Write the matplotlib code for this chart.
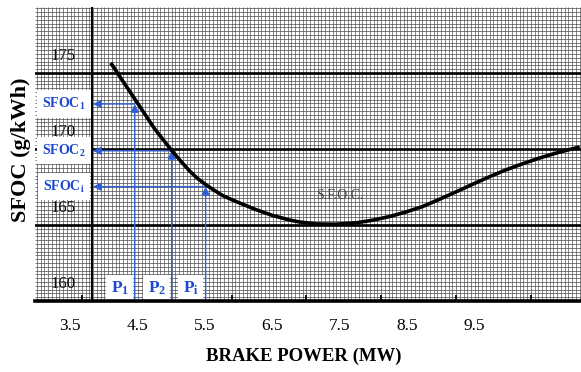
import numpy as np
import matplotlib
matplotlib.use("Agg")
import matplotlib.pyplot as plt

# ---------------- data ----------------
power = [4.107, 4.285, 4.571, 4.759, 5.011, 5.144, 5.278, 5.396, 5.525, 5.648,
         5.767, 5.896, 6.019, 6.256, 6.507, 6.759, 6.907, 7.155, 7.441, 7.747,
         7.989, 8.241, 8.478, 8.730, 8.981, 9.229, 9.470, 9.722, 9.959, 10.211,
         10.463, 10.710, 10.907, 11.070]
sfoc = [175.66, 174.47, 172.57, 171.32, 169.90, 169.21, 168.55, 168.06, 167.63, 167.27,
        166.94, 166.68, 166.45, 166.02, 165.63, 165.33, 165.20, 165.07, 165.05, 165.14,
        165.31, 165.55, 165.84, 166.20, 166.68, 167.17, 167.66, 168.16, 168.60, 169.01,
        169.39, 169.72, 169.95, 170.13]

p_points = [4.463, 5.011, 5.515]
sfoc_points = [172.96, 169.88, 167.52]
p_labels = [r"$\mathbf{P_1}$", r"$\mathbf{P_2}$", r"$\mathbf{P_i}$"]
sfoc_labels = [r"$\mathbf{SFOC_1}$", r"$\mathbf{SFOC_2}$", r"$\mathbf{SFOC_i}$"]

x_tick_values = [3.5, 4.5, 5.5, 6.5, 7.5, 8.5, 9.5]
x_tick_labels = ["3.5", "4.5", "5.5", "6.5", "7.5", "8.5", "9.5"]
y_tick_values = [160, 165, 170, 175]
y_tick_labels = ["160", "165", "170", "175"]

# ---------------- style ----------------
plt.rcParams["font.family"] = ["Liberation Serif", "DejaVu Serif"]
plt.rcParams["mathtext.fontset"] = "custom"
plt.rcParams["mathtext.rm"] = "Liberation Serif"
plt.rcParams["mathtext.bf"] = "Liberation Serif:bold"
plt.rcParams["mathtext.it"] = "Liberation Serif:italic"

BLUE_TXT = "#1c48cf"
BLUE_LN = "#2f5fd8"

W, H = 581, 372
fig = plt.figure(figsize=(W / 100, H / 100), dpi=100)
ax = fig.add_axes([35 / W, 1 - 301 / H, 546 / W, (301 - 7) / H])

xmin, xmax = 2.9815, 11.0889
ymin, ymax = 160.0, 179.34
ax.set_xlim(xmin, xmax)
ax.set_ylim(ymin, ymax)

# graph-paper grid
px_per_mw = 67.5
x_first_tick = 3.5 + 12 / px_per_mw
gstep = 3.75 / px_per_mw
gx = x_first_tick + gstep * np.arange(-20, 140)
gx = gx[(gx > xmin) & (gx < xmax)]
ax.vlines(gx, ymin, ymax, colors="#565656", lw=0.5, zorder=1)
gy = np.arange(160.25, ymax, 0.25)
ax.hlines(gy, xmin, xmax, colors="#4a4a4a", lw=0.5, zorder=1)

# heavy lines
for v in y_tick_values[1:]:
    ax.axhline(v, color="black", lw=1.9, zorder=2)
ax.axvline(3.5 + 22 / px_per_mw, color="black", lw=1.5, zorder=2)

# spines
for s in ["top", "left", "right"]:
    ax.spines[s].set_visible(False)
ax.spines["bottom"].set_linewidth(2.6)
ax.spines["bottom"].set_zorder(6)

# ticks
ax.set_xticks(x_tick_values)
ax.set_xticklabels(x_tick_labels, fontsize=12.5)
ax.tick_params(axis="x", which="major", length=0, pad=12.5)
ax.set_xticks(x_first_tick + (75 / px_per_mw) * np.arange(7), minor=True)
ax.tick_params(axis="x", which="minor", direction="in", length=4.5, width=1.3, color="black")
ax.set_yticks([])

for v, lab in zip(y_tick_values, y_tick_labels):
    ax.text(3.5 + 6 / px_per_mw, v + 1.1, lab, ha="right", va="center",
            fontsize=12, color="#111111", zorder=3)

# curve
ax.plot(power, sfoc, color="black", lw=2.6, solid_capstyle="butt",
        solid_joinstyle="round", zorder=6)
ax.text(7.5, 166.97, "S.F.O.C.", fontsize=10, color="#444444", ha="center", va="center", zorder=3)

# blue construction lines
x_arrow_tip = 3.5 + 23 / px_per_mw
for p, s, pl, sl in zip(p_points, sfoc_points, p_labels, sfoc_labels):
    ax.annotate("", xy=(p, s), xytext=(p, ymin),
                arrowprops=dict(arrowstyle="-|>", color=BLUE_LN, lw=1.0,
                                mutation_scale=12, shrinkA=0, shrinkB=0),
                zorder=5)
    ax.annotate("", xy=(x_arrow_tip, s), xytext=(p, s),
                arrowprops=dict(arrowstyle="-|>", color=BLUE_LN, lw=1.0,
                                mutation_scale=12, shrinkA=0, shrinkB=0),
                zorder=5)
    ax.text(p - 15 / px_per_mw, 160.86, pl, ha="center", va="center", fontsize=12.5,
            color=BLUE_TXT, zorder=4,
            bbox=dict(boxstyle="square,pad=0.25", fc="white", ec="none"))
    ax.text(3.5 - 6 / px_per_mw, s, sl, ha="center", va="center", fontsize=10,
            color=BLUE_TXT, zorder=4,
            bbox=dict(boxstyle="square,pad=0.4", fc="white", ec="none"))

# axis titles
ax.set_xlabel("BRAKE POWER (MW)", fontsize=13.5, fontweight="bold")
ax.xaxis.set_label_coords((304 - 35) / 546, (301 - 348) / 294)
ax.set_ylabel("SFOC (g/kWh)", fontsize=16, fontweight="bold")
ax.yaxis.set_label_coords((31 - 35) / 546, (301 - 150) / 294)

fig.savefig("out.png", dpi=100)
